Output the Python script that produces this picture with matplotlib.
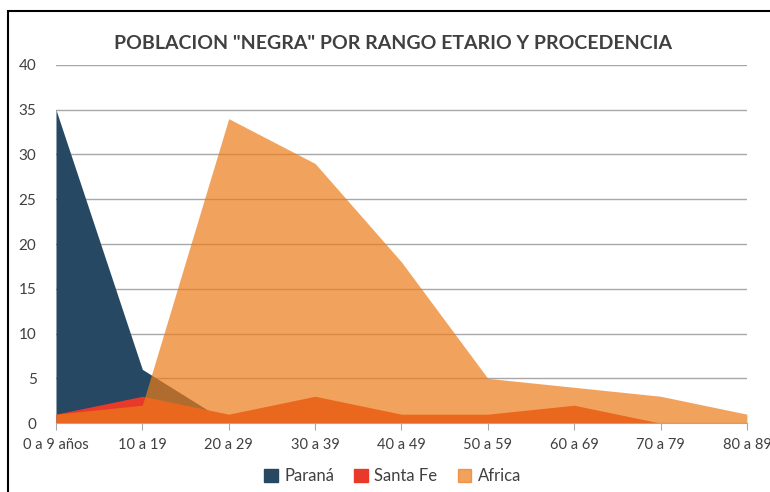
import numpy as np
import matplotlib.pyplot as plt
from matplotlib.patches import Rectangle, Patch

plt.rcParams['font.family'] = ['Lato', 'DejaVu Sans']

# age ranges
categories = ['0 a 9 años', '10 a 19', '20 a 29', '30 a 39', '40 a 49',
              '50 a 59', '60 a 69', '70 a 79', '80 a 89']
parana = [35, 6, 0, 0, 0, 0, 0, 0, 0]
santa_fe = [1, 3, 1, 3, 1, 1, 2, 0, 0]
africa = [1, 2, 34, 29, 18, 5, 4, 3, 1]

colors = {'Paraná': '#264863', 'Santa Fe': '#E8392A', 'Africa': '#EC7C19'}
af_alpha = 0.7

fig = plt.figure(figsize=(7.7, 4.92), dpi=100)
ax = fig.add_axes([0.0727, 0.140, 0.8973, 0.728])

x = np.arange(len(categories))
ax.fill_between(x, 0, parana, color=colors['Paraná'], lw=0, zorder=2)
ax.fill_between(x, 0, santa_fe, color=colors['Santa Fe'], lw=0, zorder=3)
ax.fill_between(x, 0, africa, color=colors['Africa'], alpha=af_alpha, lw=0, zorder=4)

ax.set_xlim(0, len(categories) - 1)
ax.set_ylim(0, 40)
ax.set_yticks(range(0, 41, 5))
ax.set_xticks(x)
ax.set_xticklabels(categories)
ax.yaxis.grid(True, color='#A8A8A8', lw=1)
ax.set_axisbelow(True)
ax.tick_params(axis='y', length=0, pad=14, labelsize=11, labelcolor='#404040')
ax.tick_params(axis='x', length=5, color='#A8A8A8', pad=6, labelsize=10.5, labelcolor='#404040')
for s in ['top', 'right', 'left']:
    ax.spines[s].set_visible(False)
ax.spines['bottom'].set_color('#A8A8A8')
ax.spines['bottom'].set_zorder(5)

fig.text(0.51, 0.912, 'POBLACION "NEGRA" POR RANGO ETARIO Y PROCEDENCIA',
         ha='center', va='center', fontsize=14, fontweight='bold', color='#404040')

handles = [Patch(color=colors['Paraná']), Patch(color=colors['Santa Fe']),
           Patch(color=colors['Africa'], alpha=af_alpha)]
fig.legend(handles, ['Paraná', 'Santa Fe', 'Africa'], loc='center',
           bbox_to_anchor=(0.51, 0.032), ncol=3, frameon=False, fontsize=12,
           handlelength=0.8, handleheight=0.8, handletextpad=0.4, columnspacing=1.2,
           labelcolor='#404040')

# outer frame of the original picture
fig.patches.append(Rectangle((8 / 770, -0.1), 1.2, 1 - 11 / 492 + 0.1,
                             transform=fig.transFigure, fill=False,
                             edgecolor='black', lw=1.5))

fig.savefig('out.png', dpi=100)
